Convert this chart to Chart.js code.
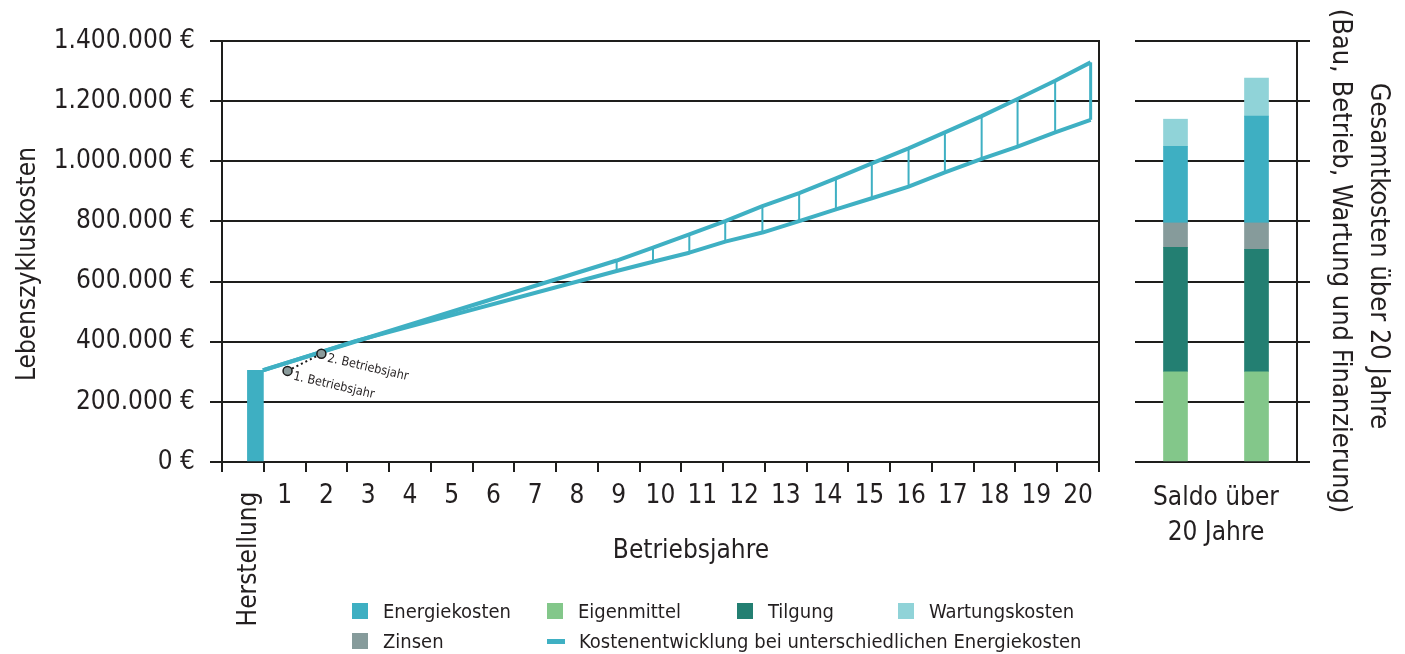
<!DOCTYPE html>
<html lang="de">
<head>
<meta charset="utf-8">
<title>Lebenszykluskosten</title>
<script src="https://cdn.jsdelivr.net/npm/chart.js@4.4.1/dist/chart.umd.min.js"></script>
<style>
  html, body { margin: 0; padding: 0; background: #fff; }
  body {
    width: 1405px; height: 654px; position: relative; overflow: hidden;
    font-family: "DejaVu Sans Condensed", "Liberation Sans", sans-serif; color: #231f20;
  }
  #costChart { position: absolute; left: 0; top: 0; }
  #totalChart { position: absolute; left: 1110px; top: 0; }
  .legend-item { position: absolute; display: flex; align-items: center; height: 30px; font-size: 20px; white-space: nowrap; }
  .swatch { width: 16px; height: 16px; margin-right: 15px; flex: none; }
  .dash { width: 18px; height: 5px; margin-right: 14px; flex: none; }
</style>
</head>
<body>
<canvas id="costChart" width="1110" height="654"></canvas>
<canvas id="totalChart" width="295" height="654"></canvas>
<div id="legend"></div>
<script>
// ---- Daten ----------------------------------------------------------
const yearLabels = ['Herstellung', '1', '2', '3', '4', '5', '6', '7', '8', '9', '10',
  '11', '12', '13', '14', '15', '16', '17', '18', '19', '20'];

// Herstellungskosten (Balken vor dem ersten Betriebsjahr)
const buildYear = 0.3;
const buildCost = 305000;

// Kostenentwicklung: gemeinsamer Startpunkt, Knick der unteren Linie
const startYear = 0.48;
const lowBendYear = 2.69;
const lowBendValue = 402000;

// Stützstellen ab denen die beiden Verläufe auseinanderlaufen
const spanYears = [8.95, 9.82, 10.69, 11.55, 12.44, 13.32, 14.2, 15.06, 15.94, 16.81, 17.69, 18.55, 19.45, 20.3];
const highEnergyCost = [670000, 713000, 757000, 801000, 851000, 894000, 943000, 993000, 1043000, 1096000, 1150000, 1207000, 1268000, 1329000];
const lowEnergyCost = [635000, 666000, 696000, 733000, 763000, 801000, 840000, 877000, 916000, 963000, 1008000, 1049000, 1096000, 1138000];

// Markierungen erstes / zweites Betriebsjahr
const markerYears = [1.07, 1.88];
const markerValues = [303000, 360000];
const markerLabels = ['1. Betriebsjahr', '2. Betriebsjahr'];

// Saldo über 20 Jahre
const totalLabels = ['niedrige Energiekosten', 'hohe Energiekosten'];
const eigenmittel = [300000, 300000];
const tilgung = [414000, 407000];
const zinsen = [81000, 88000];
const energiekosten = [255000, 355000];
const wartungskosten = [90000, 127000];

const yMax = 1400000;
const yStep = 200000;

// ---- Gestaltung -----------------------------------------------------
const fontFamily = '"DejaVu Sans Condensed", "Liberation Sans", sans-serif';
const textColor = '#231f20';
const gridColor = '#1e1e1c';
const colEnergie = '#3eafc2';
const colEigen = '#83c78a';
const colTilgung = '#237f72';
const colWartung = '#90d3d8';
const colZinsen = '#869b9b';
const colLine = '#3fb0c3';

Chart.defaults.font.family = fontFamily;
Chart.defaults.color = textColor;

const euro = v => String(v).replace(/\B(?=(\d{3})+(?!\d))/g, '.') + ' €';

// Linienzüge aus den Stützstellen
const highLine = [{ x: startYear, y: buildCost }]
  .concat(spanYears.map((x, i) => ({ x, y: highEnergyCost[i] })));
const lowLine = [{ x: startYear, y: buildCost }, { x: lowBendYear, y: lowBendValue }]
  .concat(spanYears.map((x, i) => ({ x, y: lowEnergyCost[i] })));

// Schraffur zwischen den Verläufen (einzelne senkrechte Striche)
const hatchLines = [];
spanYears.slice(0, -1).forEach((x, i) => {
  hatchLines.push({ x, y: lowEnergyCost[i] }, { x, y: highEnergyCost[i] }, { x, y: null });
});
const last = spanYears.length - 1;
const closingLine = [
  { x: spanYears[last], y: lowEnergyCost[last] },
  { x: spanYears[last], y: highEnergyCost[last] }
];

const markerPoints = markerYears.map((x, i) => ({ x, y: markerValues[i] }));

// Beschriftungen, die keine reguläre Achsenbeschriftung sind
const frameTexts = {
  id: 'frameTexts',
  afterDraw(chart) {
    const { ctx, scales } = chart;
    ctx.save();
    ctx.fillStyle = textColor;
    ctx.textAlign = 'center';
    ctx.textBaseline = 'middle';
    ctx.font = '26px ' + fontFamily;

    ctx.save();
    ctx.translate(28, 264);
    ctx.rotate(-Math.PI / 2);
    ctx.fillText('Lebenszykluskosten', 0, 0);
    ctx.restore();

    ctx.fillText('Betriebsjahre', 691, 551);

    const hx = scales.x.getPixelForTick(0);
    ctx.save();
    ctx.translate(hx + 6, 559);
    ctx.rotate(-Math.PI / 2);
    ctx.fillText(yearLabels[0], 0, 0);
    ctx.restore();

    ctx.font = '12.5px ' + fontFamily;
    ctx.textAlign = 'left';
    markerYears.forEach((yr, i) => {
      const px = scales.xl.getPixelForValue(yr);
      const py = scales.y.getPixelForValue(markerValues[i]);
      ctx.save();
      ctx.translate(px, py);
      ctx.rotate(13 * Math.PI / 180);
      ctx.fillText(markerLabels[i], 7, i === 0 ? 4 : 3);
      ctx.restore();
    });
    ctx.restore();
  }
};

new Chart(document.getElementById('costChart'), {
  type: 'bar',
  data: {
    labels: yearLabels,
    datasets: [
      {
        type: 'line', label: 'Betriebsjahre', xAxisID: 'xl', data: markerPoints, order: 1,
        borderColor: '#1a1a1a', borderWidth: 2, borderDash: [2, 3],
        pointRadius: 4.5, pointBackgroundColor: '#8a9b9b', pointBorderColor: '#1a1a1a', pointBorderWidth: 1.5
      },
      {
        type: 'line', label: 'hohe Energiekosten', xAxisID: 'xl', data: highLine, order: 2,
        borderColor: colLine, borderWidth: 4, pointRadius: 0, tension: 0, fill: false, borderJoinStyle: 'round'
      },
      {
        type: 'line', label: 'niedrige Energiekosten', xAxisID: 'xl', data: lowLine, order: 2,
        borderColor: colLine, borderWidth: 4, pointRadius: 0, tension: 0, fill: false, borderJoinStyle: 'round'
      },
      {
        type: 'line', label: 'Spanne', xAxisID: 'xl', data: hatchLines, order: 3, spanGaps: false,
        borderColor: colLine, borderWidth: 2, pointRadius: 0, tension: 0, fill: false
      },
      {
        type: 'line', label: 'Abschluss', xAxisID: 'xl', data: closingLine, order: 3,
        borderColor: colLine, borderWidth: 3, pointRadius: 0, fill: false
      },
      {
        type: 'bar', label: 'Herstellung', xAxisID: 'xl', data: [{ x: buildYear, y: buildCost }], order: 4,
        backgroundColor: colEnergie, barThickness: 16
      }
    ]
  },
  options: {
    responsive: false,
    animation: false,
    events: [],
    layout: { padding: { top: 41, right: 11, bottom: 0, left: 0 } },
    plugins: { legend: { display: false }, tooltip: { enabled: false } },
    scales: {
      x: {
        type: 'category',
        offset: true,
        grid: { offset: true, drawOnChartArea: false, drawTicks: true, tickLength: 10, color: gridColor, lineWidth: 2 },
        border: { display: true, color: gridColor, width: 2 },
        ticks: {
          font: { size: 26 }, color: textColor, padding: 9, maxRotation: 0, minRotation: 0, autoSkip: false,
          callback: (v, i) => (i === 0 ? '' : yearLabels[i])
        },
        afterFit: s => { s.height = 192; }
      },
      xl: { type: 'linear', display: false, offset: false, min: -0.5, max: 20.5 },
      y: {
        type: 'linear',
        position: 'left',
        min: 0, max: yMax,
        ticks: { stepSize: yStep, font: { size: 26 }, color: textColor, padding: 15, callback: v => euro(v) },
        grid: { color: gridColor, lineWidth: 2, tickLength: 12, drawTicks: true },
        border: { display: true, color: gridColor, width: 2 },
        afterFit: s => { s.width = 222; }
      },
      yr: {
        type: 'linear',
        position: 'right',
        display: true,
        ticks: { display: false },
        grid: { display: false },
        border: { display: true, color: gridColor, width: 2 },
        afterFit: s => { s.width = 0; }
      }
    }
  },
  plugins: [frameTexts]
});

// Saldo-Diagramm mit Titel rechts
const totalTitle = {
  id: 'totalTitle',
  afterDraw(chart) {
    const { ctx, chartArea } = chart;
    ctx.save();
    ctx.fillStyle = textColor;
    ctx.font = '27px ' + fontFamily;
    ctx.textAlign = 'center';
    ctx.textBaseline = 'middle';
    [['Gesamtkosten über 20 Jahre', 81, 256], ['(Bau, Betrieb, Wartung und Finanzierung)', 43, 261]]
      .forEach(([t, dx, cy]) => {
        ctx.save();
        ctx.translate(chartArea.right + dx, cy);
        ctx.rotate(Math.PI / 2);
        ctx.fillText(t, 0, 0);
        ctx.restore();
      });
    ctx.restore();
  }
};

new Chart(document.getElementById('totalChart'), {
  type: 'bar',
  data: {
    labels: totalLabels,
    datasets: [
      { label: 'Eigenmittel', data: eigenmittel, backgroundColor: colEigen },
      { label: 'Tilgung', data: tilgung, backgroundColor: colTilgung },
      { label: 'Zinsen', data: zinsen, backgroundColor: colZinsen },
      { label: 'Energiekosten', data: energiekosten, backgroundColor: colEnergie },
      { label: 'Wartungskosten', data: wartungskosten, backgroundColor: colWartung }
    ]
  },
  options: {
    responsive: false,
    animation: false,
    events: [],
    layout: { padding: { top: 41, left: 25, right: 0, bottom: 0 } },
    datasets: { bar: { barThickness: 24 } },
    plugins: { legend: { display: false }, tooltip: { enabled: false } },
    scales: {
      x: {
        stacked: true,
        grid: { display: false },
        border: { display: false },
        ticks: { display: false },
        title: {
          display: true, text: ['Saldo über', '20 Jahre'], color: textColor,
          font: { size: 26, lineHeight: 35 / 26 }, padding: { top: 0, bottom: 103.5 }
        },
        afterFit: s => { s.height = 192; }
      },
      y: {
        stacked: true,
        position: 'right',
        min: 0, max: yMax,
        ticks: { display: false, stepSize: yStep },
        grid: { color: gridColor, lineWidth: 2, tickLength: 13, drawTicks: true },
        border: { display: true, color: gridColor, width: 2 },
        afterFit: s => { s.width = 108; }
      }
    }
  },
  plugins: [totalTitle]
});

// Legende
const legendItems = [
  { text: 'Energiekosten', color: colEnergie, left: 352, top: 596 },
  { text: 'Eigenmittel', color: colEigen, left: 547, top: 596 },
  { text: 'Tilgung', color: colTilgung, left: 737, top: 596 },
  { text: 'Wartungskosten', color: colWartung, left: 898, top: 596 },
  { text: 'Zinsen', color: colZinsen, left: 352, top: 626 },
  { text: 'Kostenentwicklung bei unterschiedlichen Energiekosten', color: colLine, left: 547, top: 626, line: true }
];
const legend = document.getElementById('legend');
legendItems.forEach(it => {
  const el = document.createElement('div');
  el.className = 'legend-item';
  el.style.left = it.left + 'px';
  el.style.top = it.top + 'px';
  const mark = document.createElement('span');
  mark.className = it.line ? 'dash' : 'swatch';
  mark.style.background = it.color;
  const label = document.createElement('span');
  label.textContent = it.text;
  el.appendChild(mark);
  el.appendChild(label);
  legend.appendChild(el);
});
</script>
</body>
</html>
